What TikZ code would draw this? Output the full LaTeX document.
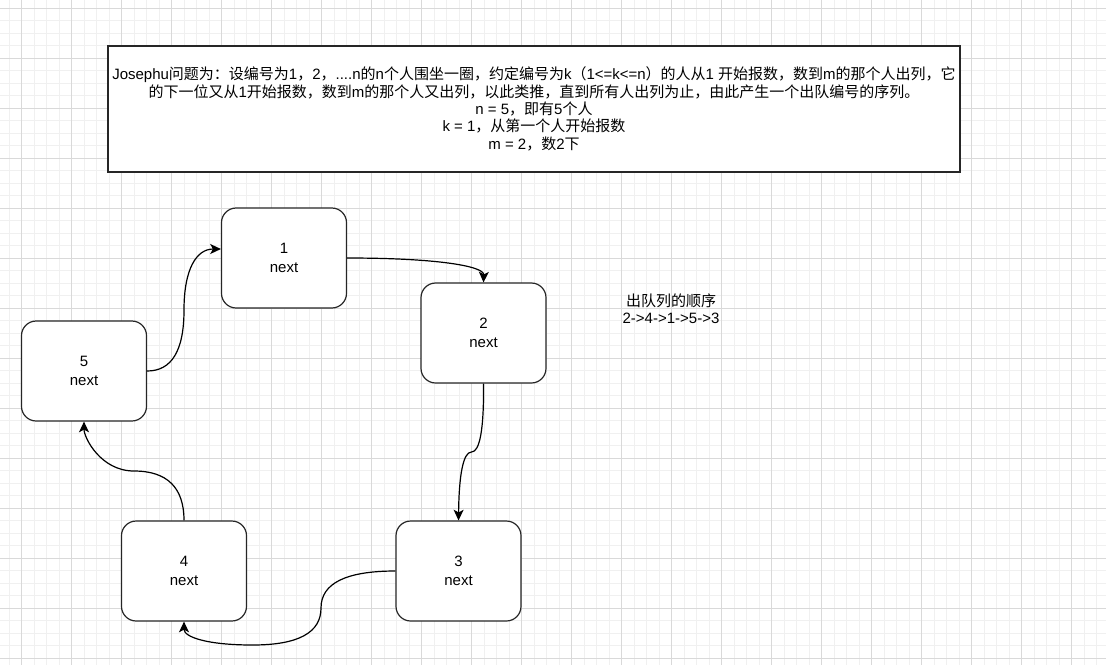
\documentclass[tikz,border=0pt]{standalone}
\usepackage{fontspec}
\setmainfont{Liberation Sans}
\newfontfamily\cjk{Noto Sans CJK SC}
\usetikzlibrary{arrows.meta}
\newcommand{\pxlen}{0.75pt}

\begin{document}
\begin{tikzpicture}[x=0.75pt,y=-0.75pt,font=\fontsize{11.25pt}{13pt}\selectfont,>={Stealth[length=8pt,width=7.5pt,inset=2pt]},
  person/.style={draw=black!85,line width=0.9pt,rounded corners=11pt,fill=white,align=center,minimum width=125*\pxlen,minimum height=100*\pxlen,inner sep=0pt,font=\fontsize{11.25pt}{14pt}\selectfont},
  task/.style={draw=black!85,line width=0.9pt,fill=white,align=center,minimum width=852*\pxlen,minimum height=126*\pxlen,inner sep=0pt},
  link/.style={->,line width=0.9pt}]
\fill[white] (0,0) rectangle (1106,665);
\useasboundingbox (0,0) rectangle (1106,665);
% grid
\foreach \x in {9.2,21.7,...,1106}{\draw[gray!12,line width=0.75pt] (\x,0) -- (\x,665);}
\foreach \y in {8.3,20.8,...,665}{\draw[gray!12,line width=0.75pt] (0,\y) -- (1106,\y);}
\foreach \x in {21.7,71.7,...,1106}{\draw[gray!30,line width=0.75pt] (\x,0) -- (\x,665);}
\foreach \y in {8.3,58.3,...,665}{\draw[gray!30,line width=0.75pt] (0,\y) -- (1106,\y);}

\node[task] (rule) at (534,109) {Josephu{\cjk 问题为：设编号为}1{\cjk ，}2{\cjk ，}....n{\cjk 的}n{\cjk 个人围坐一圈，约定编号为}k{\cjk （}1<=k<=n{\cjk ）的人从}1 {\cjk 开始报数，数到}m{\cjk 的那个人出列，它}\\
{\cjk 的下一位又从}1{\cjk 开始报数，数到}m{\cjk 的那个人又出列，以此类推，直到所有人出列为止，由此产生一个出队编号的序列。}\\
n = 5{\cjk ，即有}5{\cjk 个人}\\
k = 1{\cjk ，从第一个人开始报数}\\
m = 2{\cjk ，数}2{\cjk 下}};

\node[person] (p1) at (284,258) {1\\next};
\node[person] (p2) at (483.5,333) {2\\next};
\node[person] (p3) at (458.5,571) {3\\next};
\node[person] (p4) at (184,571) {4\\next};
\node[person] (p5) at (84,371) {5\\next};
\node[align=center] (order) at (671,309) {{\cjk 出队列的顺序}\\2->4->1->5->3};

\draw[link] (p1.east) .. controls (438.3,258) and (484,266.3) .. (p2.north);
\draw[link] (p2.south) .. controls (484,429) and (479.8,452) .. (471.5,452) .. controls (463.2,452) and (459,475) .. (p3.north);
\draw[link] (p3.west) .. controls (346,571) and (321,583.3) .. (321,608) .. controls (321,632.7) and (298.2,645) .. (252.5,645) .. controls (206.8,645) and (184,637) .. (p4.south);
\draw[link] (p4.north) .. controls (184,487.7) and (167.3,471) .. (134,471) .. controls (100.7,471) and (84,437.7) .. (p5.south);
\draw[link] (p5.east) .. controls (171.7,371) and (184,350.7) .. (184,310) .. controls (184,269.3) and (196.3,249) .. ([yshift=6.75pt]p1.west);
\end{tikzpicture}
\end{document}
